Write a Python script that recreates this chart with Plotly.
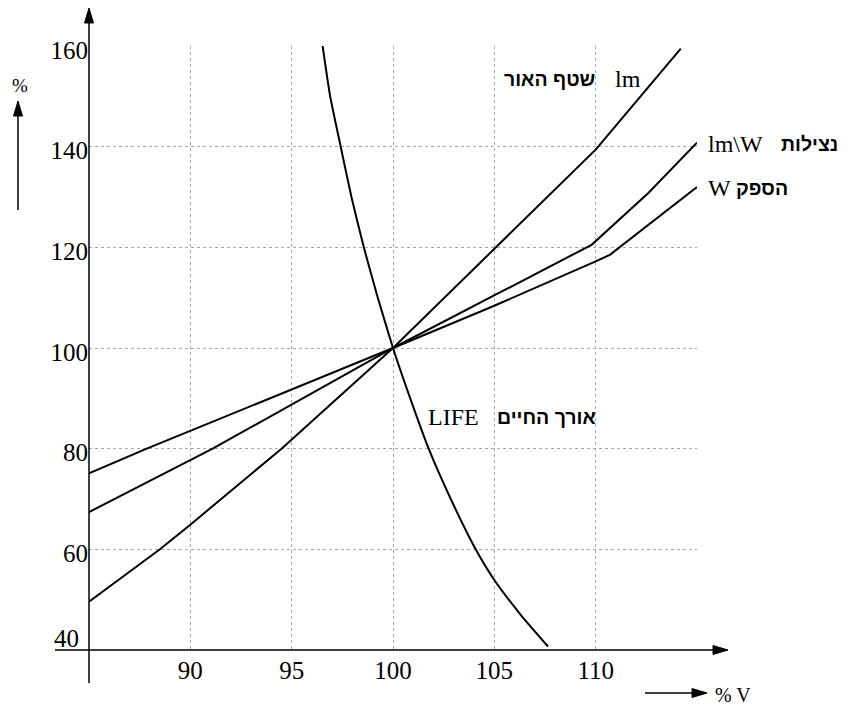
import plotly.graph_objects as go

# % of rated voltage vs % of rated value
lm_x = [85, 88.5, 90, 94.5, 100, 105.1, 110, 114.2]
lm_y = [49.6, 60, 64.9, 80, 100, 120, 139.4, 159.5]

eff_x = [85, 91.1, 100, 105, 109.8, 112.6, 115]
eff_y = [67.4, 80, 100, 110.4, 120.5, 130.8, 140.8]

w_x = [85, 87.85, 100, 105, 110, 110.7, 115]
w_y = [75.1, 80, 100, 108.4, 117.2, 118.5, 132]

life_x = [96.48, 96.9, 97.42, 97.95, 98.56, 99.25, 100, 100.85, 101.76, 102.85, 104.08, 105, 106.3, 107.65]
life_y = [161.3, 150, 140, 130, 120, 110, 100, 90, 80, 70, 60, 53.9, 47, 40.7]

x_ticks = [90, 95, 100, 105, 110]
x_grid = [90, 95, 100, 105, 110, 115]
y_ticks = [60, 80, 100, 120, 140, 160]

SERIF = "Liberation Serif, Times New Roman, serif"
HEB = "Liberation Sans, DejaVu Sans, sans-serif"

# page has an 8px body margin, so screen coords = figure coords + 8
W, H = 848, 706
L, R, T, B = 81, 159, 38, 64
PW, PH = W - L - R, H - T - B


def px(x):  # screen x -> paper
    return (x - 8 - L) / PW


def py(y):  # screen y -> paper
    return (H - B - (y - 8)) / PH


fig = go.Figure()
for xs, ys, shp in [(lm_x, lm_y, "linear"), (eff_x, eff_y, "linear"),
                    (w_x, w_y, "linear"), (life_x, life_y, "spline")]:
    fig.add_trace(go.Scatter(x=xs, y=ys, mode="lines", cliponaxis=False,
                             line=dict(color="black", width=2, shape=shp, smoothing=0.5),
                             hoverinfo="skip"))

shapes = []
# axes lines
shapes.append(dict(type="line", xref="paper", yref="paper", x0=px(55), x1=px(720),
                   y0=0, y1=0, line=dict(color="black", width=1.5)))
shapes.append(dict(type="line", xref="paper", yref="paper", x0=0, x1=0,
                   y0=py(683), y1=py(16), line=dict(color="black", width=1.5)))
# label arrows
shapes.append(dict(type="line", xref="paper", yref="paper", x0=px(18), x1=px(18),
                   y0=py(210), y1=py(112), line=dict(color="black", width=1.5)))
shapes.append(dict(type="line", xref="paper", yref="paper", x0=px(645), x1=px(696),
                   y0=py(693), y1=py(693), line=dict(color="black", width=1.5)))


def head(xp, yp, path):
    return dict(type="path", xref="paper", yref="paper", xsizemode="pixel", ysizemode="pixel",
                xanchor=xp, yanchor=yp, path=path, fillcolor="black",
                line=dict(color="black", width=1))


up = "M0,0 L-4.5,-15 L4.5,-15 Z"
right = "M0,0 L-15,4.5 L-15,-4.5 Z"
shapes.append(head(0, py(8), up))
shapes.append(head(px(728), 0, right))
shapes.append(head(px(18), py(101), up))
shapes.append(head(px(707), py(693), right))


def lab(cx, cy, text, family, size, bold=False):
    t = f"<b>{text}</b>" if bold else text
    return dict(x=px(cx), y=py(cy), text=t, xanchor="center", yanchor="middle",
                font=dict(family=family, size=size, color="black"))


annotations = [
    dict(x=0, y=40, xref="paper", yref="y", text="40", xanchor="right", yanchor="middle",
         xshift=-8, yshift=12, font=dict(family=SERIF, size=25, color="black")),
    lab(20, 85, "%", SERIF, 19),
    lab(733, 695, "% V", SERIF, 20),
    lab(628, 79, "lm", SERIF, 24),
    lab(549, 79, "שטף האור", HEB, 19.5, True),
    lab(735, 144, "lm\\W", SERIF, 24),
    lab(809, 144, "נצילות", HEB, 19.5, True),
    lab(719, 188, "W", SERIF, 24),
    lab(762, 188, "הספק", HEB, 19.5, True),
    lab(453, 417, "LIFE", SERIF, 24),
    lab(546, 417, "אורך החיים", HEB, 19.5, True),
]
for a in annotations:
    a.setdefault("xref", "paper")
    a.setdefault("yref", "paper")
    a["showarrow"] = False

fig.update_layout(
    width=W, height=H,
    margin=dict(l=L, r=R, t=T, b=B, pad=0),
    paper_bgcolor="white", plot_bgcolor="white",
    showlegend=False,
    shapes=shapes,
    annotations=annotations,
    xaxis=dict(range=[85, 115], tickvals=x_grid, ticktext=[str(v) if v in x_ticks else "" for v in x_grid],
               showgrid=True, gridcolor="#a8a8a8", griddash="dot", gridwidth=1,
               zeroline=False, showline=False, ticks="", ticklabelstandoff=3,
               tickfont=dict(family=SERIF, size=25, color="black")),
    yaxis=dict(range=[40, 160], tickvals=y_ticks,
               showgrid=True, gridcolor="#a8a8a8", griddash="dot", gridwidth=1,
               zeroline=False, showline=False, ticks="", ticklabelshift=4,
               tickfont=dict(family=SERIF, size=25, color="black")),
)

fig.write_html("out.html")
